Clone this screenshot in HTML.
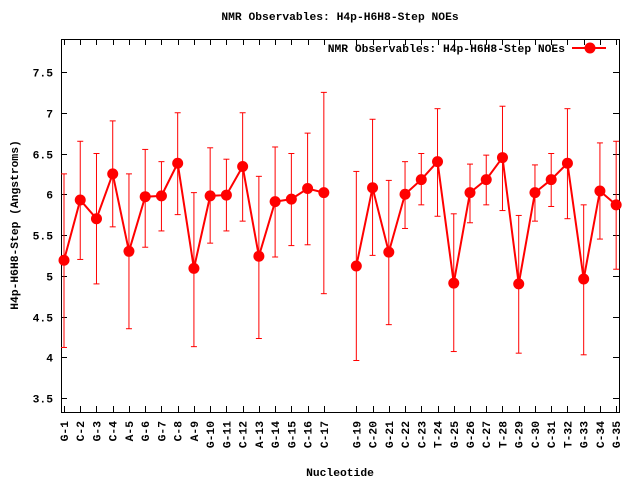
<!DOCTYPE html>
<html><head><meta charset="utf-8"><style>
body{margin:0;background:#fff}
svg text{font-family:"Liberation Mono",monospace;font-weight:bold;font-size:11.3px;fill:#000}
</style></head><body>
<svg id="s" width="640" height="480" xmlns="http://www.w3.org/2000/svg"></svg>
<script>
const s=document.getElementById('s');
let h='';
const L=61,R=619,T=39,B=412;
const Y=v=>72+(7.5-v)*81.5;
const X=i=>64+i*16.24;
h+=`<text x="340" y="20" text-anchor="middle">NMR Observables: H4p-H6H8-Step NOEs</text>`;
h+=`<rect x="${L}.5" y="${T}.5" width="${R-L}" height="${B-T}" fill="none" stroke="#000" stroke-width="1"/>`;
for(let k=0;k<9;k++){const v=3.5+k*0.5,y=Math.round(Y(v))+0.5;
h+=`<line x1="${L}" y1="${y}" x2="${L+6}" y2="${y}" stroke="#000"/><line x1="${R-6}" y1="${y}" x2="${R}" y2="${y}" stroke="#000"/>`;
h+=`<text x="${L-8}" y="${y+4}" text-anchor="end">${Number.isInteger(v)?v:v.toFixed(1)}</text>`;}
const d=[["G-1",5.19,4.12,6.25],["C-2",5.93,5.2,6.65],["G-3",5.7,4.9,6.5],["C-4",6.25,5.6,6.9],["A-5",5.3,4.35,6.25],["G-6",5.97,5.35,6.55],["G-7",5.98,5.55,6.4],["C-8",6.38,5.75,7.0],["A-9",5.09,4.13,6.02],["G-10",5.98,5.4,6.57],["G-11",5.99,5.55,6.43],["C-12",6.34,5.67,7.0],["A-13",5.24,4.23,6.22],["G-14",5.91,5.23,6.58],["G-15",5.94,5.37,6.5],["C-16",6.07,5.38,6.75],["C-17",6.02,4.78,7.25],null,["G-19",5.12,3.96,6.28],["C-20",6.08,5.25,6.92],["G-21",5.29,4.4,6.17],["C-22",6.0,5.58,6.4],["C-23",6.18,5.87,6.5],["T-24",6.4,5.73,7.05],["G-25",4.91,4.07,5.76],["G-26",6.02,5.65,6.37],["C-27",6.18,5.87,6.48],["T-28",6.45,5.8,7.08],["G-29",4.9,4.05,5.74],["C-30",6.02,5.67,6.36],["C-31",6.18,5.85,6.5],["T-32",6.38,5.7,7.05],["G-33",4.96,4.03,5.87],["C-34",6.04,5.45,6.63],["G-35",5.87,5.08,6.65]];
let seg=[],segs=[];
d.forEach((p,i)=>{if(!p){segs.push(seg);seg=[];return;}
const x=X(i);const xr=Math.round(x)+0.5;
h+=`<line x1="${xr}" y1="${B}" x2="${xr}" y2="${B-6}" stroke="#000"/><line x1="${xr}" y1="${T}" x2="${xr}" y2="${T+6}" stroke="#000"/>`;
h+=`<text transform="translate(${x+4},421) rotate(-90)" text-anchor="end">${p[0]}</text>`;
const y1=Y(p[2]),y2=Y(p[3]);
h+=`<line x1="${x}" y1="${y1}" x2="${x}" y2="${y2}" stroke="#f00"/><line x1="${x-3}" y1="${y1}" x2="${x+3}" y2="${y1}" stroke="#f00"/><line x1="${x-3}" y1="${y2}" x2="${x+3}" y2="${y2}" stroke="#f00"/>`;
seg.push([x,Y(p[1])]);});
segs.push(seg);
segs.forEach(sg=>{h+=`<polyline points="${sg.map(q=>q.join(',')).join(' ')}" fill="none" stroke="#f00" stroke-width="2"/>`;
sg.forEach(q=>h+=`<circle cx="${q[0]}" cy="${q[1]}" r="5.5" fill="#f00"/>`);});
h+=`<text x="565" y="52" text-anchor="end">NMR Observables: H4p-H6H8-Step NOEs</text>`;
h+=`<line x1="572" y1="48" x2="606" y2="48" stroke="#f00" stroke-width="2"/><circle cx="590" cy="48" r="5.5" fill="#f00"/>`;
h+=`<text x="340" y="476" text-anchor="middle">Nucleotide</text>`;
h+=`<text transform="translate(18,225) rotate(-90)" text-anchor="middle">H4p-H6H8-Step (Angstroms)</text>`;
s.innerHTML=h;
</script>
</body></html>
